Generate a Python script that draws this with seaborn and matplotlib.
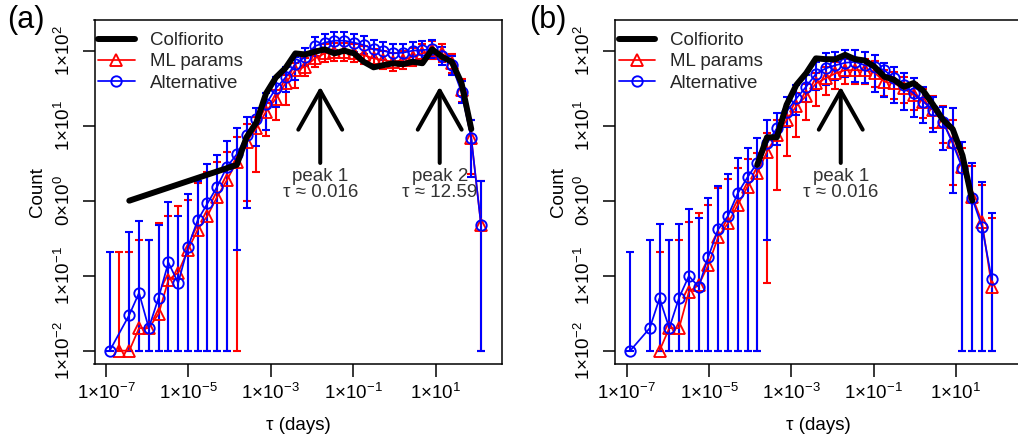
import numpy as np
import pandas as pd
import matplotlib
matplotlib.use("Agg")
import matplotlib.pyplot as plt
import seaborn as sns
from matplotlib.lines import Line2D
from matplotlib.ticker import FixedLocator, FixedFormatter, NullLocator

sns.set_style("ticks")
plt.rcParams['font.family'] = ['Liberation Sans', 'DejaVu Sans']
plt.rcParams['mathtext.fontset'] = 'custom'
plt.rcParams['mathtext.rm'] = 'Liberation Sans'
plt.rcParams['mathtext.it'] = 'Liberation Sans:italic'
plt.rcParams['axes.unicode_minus'] = True

# ---------------- data ----------------
tau = [1.23e-7, 2.12e-7, 3.67e-7, 6.33e-7, 1.09e-6, 1.89e-6, 3.26e-6, 5.63e-6,
       9.72e-6, 1.68e-5, 2.90e-5, 5.00e-5, 8.64e-5, 1.49e-4, 2.57e-4, 4.45e-4,
       7.68e-4, 1.33e-3, 2.29e-3, 3.95e-3, 6.82e-3, 1.18e-2, 2.03e-2, 3.51e-2,
       6.07e-2, 0.105, 0.181, 0.312, 0.539, 0.931, 1.61, 2.77, 4.79, 8.27,
       14.3, 24.7, 42.6, 73.5, 127]

N = None
# panel (a)
a_colf = [N, N, 1, N, N, N, N, N, N, N, N, N, N,
          3, 7, 11, 27, 44, 59, 92, 89, 97, 104, 92, 100, 92, 71, 60, 64, 68,
          66, 71, 68, 104, 83, 71, 37, 9, N]
a_ml = [N, 0.01, 0.01, 0.02, 0.02, 0.031, 0.0875, 0.11, 0.22, 0.41, 0.63, 1.13,
        1.89, 3.3, 6.1, 9.2, 15.4, 23, 37, 55, 61, 79, 92, 97, 97, 92, 87, 79,
        75, 71, 75, 83, 92, 102, 92, 68, 30, 6.8, 0.47]
a_ml_lo = [N, 0.01, 0.01, 0.01, 0.01, 0.01, 0.01, 0.01, 0.01, 0.01, 0.01, 0.01,
           0.01, 0.01, 1.0, 2.44, 7.3, 11.9, 18.9, 31.5, 46, 60, 70, 73, 73, 70,
           66, 60, 57, 54, 57, 63, 70, 77, 70, 51, 21, 2.3, 0.01]
a_ml_hi = [N, 0.21, 0.21, 0.30, 0.30, 0.50, 0.63, 0.86, 1.02, 1.70, 2.44, 3.3,
           4.4, 7.1, 10.5, 13.2, 19.9, 30, 47, 68, 80, 104, 121, 128, 128, 121,
           115, 104, 99, 94, 99, 110, 121, 134, 121, 90, 42, 11.9, 1.83]
a_alt = [0.01, N, 0.03, 0.059, 0.02, 0.051, 0.15, 0.08, 0.24, 0.55, 0.92, 1.54,
         2.84, 4.15, 7.4, 12.3, 19.5, 31.5, 44, 66, 83, 115, 128, 136, 136, 128,
         119, 104, 100, 92, 94, 100, 102, 104, 85, 64, 28, 6.8, 0.47]
a_alt_lo = [0.01, N, 0.01, 0.01, 0.01, 0.01, 0.01, 0.01, 0.01, 0.01, 0.01, 0.01,
            0.01, 0.22, 0.79, 5.4, 8.7, 17.5, 28, 41, 62, 86, 97, 103, 103, 97,
            90, 79, 76, 70, 71, 76, 77, 79, 64, 48, 20, 2.1, 0.01]
a_alt_hi = [0.21, N, 0.38, 0.54, 0.30, 0.48, 0.96, 0.63, 1.24, 1.85, 3.1, 4.1,
            6.3, 9.2, 13.2, 17, 27, 45, 61, 83, 108, 150, 168, 178, 178, 168,
            155, 137, 131, 121, 123, 131, 134, 137, 112, 85, 40, 11.9, 1.83]

# panel (b)
b_colf = [N, N, N, N, N, N, N, N, N, N, N, N, N,
          3, 7, 7, 19, 35, 50, 79, 77, 77, 88, 77, 74, 61, 45, 41, 33, 37, 29,
          19, 12, 9, 4, 1, N, N]
b_ml = [N, N, N, 0.01, 0.02, 0.02, 0.061, 0.075, 0.14, 0.33, 0.50, 0.875, 1.54,
        2.31, 4.5, 7.5, 11.9, 18.3, 24.9, 36.6, 42.8, 49.9, 55, 55, 55, 51, 38.6,
        36.6, 31.5, 25.6, 20.9, 16.2, 11.3, 6.1, 2.84, 1.13, 0.52, 0.071]
b_ml_lo = [N, N, N, 0.01, 0.01, 0.01, 0.01, 0.01, 0.01, 0.01, 0.01, 0.01, 0.01,
           0.01, 0.079, 1.39, 3.9, 7.1, 11.9, 18.3, 26, 31, 36, 36, 36, 33, 25,
           23, 20, 16, 12.5, 9.3, 5.8, 1.6, 0.01, 0.01, 0.01, 0.01]
b_ml_hi = [N, N, N, 0.21, 0.30, 0.30, 0.52, 0.69, 0.87, 1.46, 1.92, 2.7, 3.56,
           4.3, 8.0, 11.9, 17.5, 27, 36, 50, 60, 70, 77, 77, 77, 72, 55, 52, 45,
           37, 31, 25, 18.5, 12, 5.0, 2.9, 1.6, 0.58]
b_alt = [0.01, N, 0.02, 0.05, 0.02, 0.051, 0.099, 0.071, 0.18, 0.415, 0.625,
         1.25, 2.05, 3.2, 5.8, 9.2, 15.4, 23.1, 33, 49, 58, 64, 69, 71, 64, 61,
         55, 43, 35, 27, 21, 16.2, 11.3, 5.8, 2.7, 1.07, 0.45, 0.089]
b_alt_lo = [0.01, N, 0.01, 0.01, 0.01, 0.01, 0.01, 0.01, 0.01, 0.01, 0.01, 0.01,
            0.01, 0.01, 0.30, 5.5, 9.5, 14, 21, 30, 34.8, 40.6, 45, 38.6, 37, 28,
            24.4, 19.9, 16.2, 13.2, 10.7, 8.3, 4.7, 1.25, 0.01, 0.01, 0.01, 0.01]
b_alt_hi = [0.21, N, 0.30, 0.49, 0.30, 0.49, 0.77, 0.58, 1.1, 1.57, 2.27, 3.66,
            5.1, 6.8, 11.9, 14.9, 23.9, 34.8, 47, 71, 92, 97, 102, 102, 97, 87,
            68, 61, 50, 43, 33, 24, 17.5, 17, 6.1, 3.15, 1.79, 0.68]

series_labels = ["Colfiorito", "ML params", "Alternative"]
xtick_vals = [1e-7, 1e-5, 1e-3, 1e-1, 1e1]
xtick_labels = [r"$\mathregular{1{\times}10^{-7}}$", r"$\mathregular{1{\times}10^{-5}}$",
                r"$\mathregular{1{\times}10^{-3}}$", r"$\mathregular{1{\times}10^{-1}}$",
                r"$\mathregular{1{\times}10^{1}}$"]
ytick_vals = [1e-2, 1e-1, 1e0, 1e1, 1e2]
ytick_labels = [r"$\mathregular{1{\times}10^{-2}}$", r"$\mathregular{1{\times}10^{-1}}$",
                r"$\mathregular{0{\times}10^{0}}$", r"$\mathregular{1{\times}10^{1}}$",
                r"$\mathregular{1{\times}10^{2}}$"]

# peaks: (position, line1, line2)
a_peaks = [(10 ** -1.8, "peak 1", "τ ≈ 0.016"), (10 ** 1.1, "peak 2", "τ ≈ 12.59")]
b_peaks = [(10 ** -1.8, "peak 1", "τ ≈ 0.016")]

RED = "#FF0000"
BLUE = "#0000FF"
FS = 13.5

fig = plt.figure(figsize=(10.18, 4.4), dpi=100)
W, H = 1018.0, 440.0
axA = fig.add_axes([94.5 / W, 76.5 / H, 407 / W, 343.5 / H])
axB = fig.add_axes([615 / W, 76.5 / H, 407 / W, 343.5 / H])


def draw_panel(ax, n, colf, ml, ml_lo, ml_hi, alt, alt_lo, alt_hi, peaks):
    ax.set_xscale('log')
    ax.set_yscale('log')
    ax.set_xlim(10 ** -7.28, 10 ** 2.60)
    ax.set_ylim(10 ** -2.171, 10 ** 2.409)
    t = tau[:n]
    for vals, lo, hi, color, marker, ms in [(ml, ml_lo, ml_hi, RED, '^', 8.5),
                                            (alt, alt_lo, alt_hi, BLUE, 'o', 7.5)]:
        df = pd.DataFrame({'tau': t, 'v': vals, 'lo': lo, 'hi': hi},
                          dtype=float).dropna()
        ax.errorbar(df['tau'], df['v'], yerr=[df['v'] - df['lo'], df['hi'] - df['v']],
                    fmt='none', ecolor=color, elinewidth=1.5, capsize=3.0,
                    capthick=1.5, zorder=2)
        sns.lineplot(data=df, x='tau', y='v', ax=ax, color=color, marker=marker,
                     markersize=ms, markerfacecolor='none', markeredgecolor=color,
                     markeredgewidth=1.35, lw=1.25, estimator=None, sort=False,
                     legend=False, zorder=3)
    dfc = pd.DataFrame({'tau': t, 'c': colf}, dtype=float).dropna()
    sns.lineplot(data=dfc, x='tau', y='c', ax=ax, color='black', lw=4.3,
                 estimator=None, sort=False, legend=False, zorder=4,
                 solid_capstyle='round', solid_joinstyle='round')

    for xp, l1, l2 in peaks:
        ax.annotate('', xy=(xp, 10 ** 1.52), xytext=(xp, 10 ** 0.503),
                    arrowprops=dict(arrowstyle='->,head_length=28,head_width=15.8',
                                    mutation_scale=1, lw=2.9, color='black',
                                    shrinkA=0, shrinkB=0), zorder=5)
        ax.text(xp, 10 ** 0.316, l1, ha='center', va='center', fontsize=FS,
                color='#333333', zorder=5)
        ax.text(xp, 10 ** 0.103, l2, ha='center', va='center', fontsize=FS,
                color='#333333', zorder=5)

    ax.xaxis.set_major_locator(FixedLocator(xtick_vals))
    ax.xaxis.set_major_formatter(FixedFormatter(xtick_labels))
    ax.yaxis.set_major_locator(FixedLocator(ytick_vals))
    ax.yaxis.set_major_formatter(FixedFormatter(ytick_labels))
    ax.xaxis.set_minor_locator(NullLocator())
    ax.yaxis.set_minor_locator(NullLocator())
    ax.tick_params(axis='both', which='major', direction='out', length=9,
                   width=1.1, color='black', labelsize=FS, labelcolor='black')
    ax.tick_params(axis='x', pad=5)
    ax.tick_params(axis='y', pad=6)
    for lab in ax.get_yticklabels():
        lab.set_rotation(90)
        lab.set_va('center')
    for sp in ax.spines.values():
        sp.set_visible(True)
        sp.set_color('black')
        sp.set_linewidth(1.1)
    ax.set_facecolor('white')
    ax.grid(False)
    ax.set_xlabel("τ (days)", fontsize=FS, color='black')
    ax.set_ylabel("Count", fontsize=FS, color='black')
    ax.xaxis.set_label_coords(0.5, -0.155)
    ax.yaxis.set_label_coords(-0.118, 0.5)

    handles = [Line2D([], [], color='black', lw=4.3, solid_capstyle='round'),
               Line2D([], [], color=RED, lw=1.25, marker='^', markersize=9.0,
                      markerfacecolor='none', markeredgewidth=1.35),
               Line2D([], [], color=BLUE, lw=1.25, marker='o', markersize=7.5,
                      markerfacecolor='none', markeredgewidth=1.35)]
    ax.legend(handles, series_labels, loc='upper left', bbox_to_anchor=(0.0086, 0.965),
              frameon=False, borderpad=0, borderaxespad=0, handlelength=1.97,
              handletextpad=0.8, labelspacing=0.22, fontsize=FS)


draw_panel(axA, 39, a_colf, a_ml, a_ml_lo, a_ml_hi, a_alt, a_alt_lo, a_alt_hi, a_peaks)
draw_panel(axB, 38, b_colf, b_ml, b_ml_lo, b_ml_hi, b_alt, b_alt_lo, b_alt_hi, b_peaks)

fig.text(26 / W, 1 - 20 / H, "(a)", ha='center', va='center', fontsize=22, color='black')
fig.text(548 / W, 1 - 20 / H, "(b)", ha='center', va='center', fontsize=22, color='black')

fig.savefig("out.png", dpi=100, facecolor='white')
